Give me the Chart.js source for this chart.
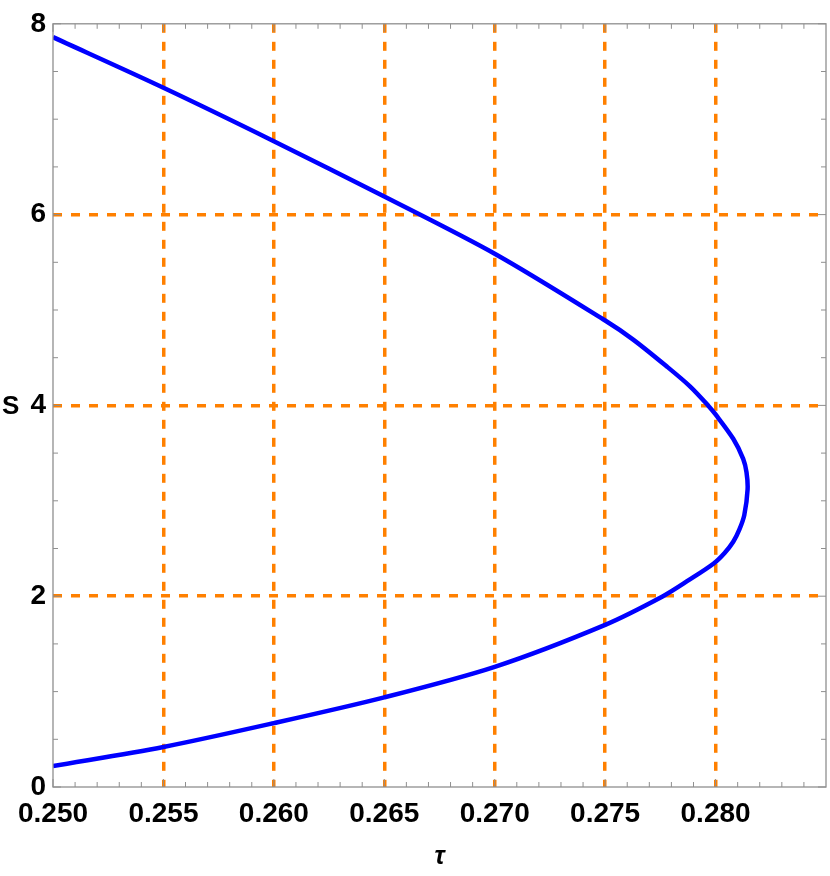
<!DOCTYPE html>
<html>
<head>
<meta charset="utf-8">
<script src="https://cdn.jsdelivr.net/npm/chart.js@4.4.1/dist/chart.umd.min.js"></script>
<style>
  html, body { margin: 0; padding: 0; background: #fff; }
  #wrap { width: 830px; height: 876px; position: relative; }
</style>
</head>
<body>
<div id="wrap"><canvas id="chart"></canvas></div>
<script>
// curve, bottom branch first then the upper branch
const tauValues = [0.2500, 0.2550, 0.2600, 0.2650, 0.2700, 0.2750, 0.27762, 0.2788, 0.2799, 0.2804,
  0.2808, 0.28108, 0.2813, 0.28145, 0.2814, 0.28125, 0.2808, 0.2800, 0.27966, 0.27884, 0.27778,
  0.27627, 0.2750, 0.2700, 0.2650, 0.2600, 0.2550, 0.2500];
const sValues = [0.22, 0.42, 0.67, 0.94, 1.26, 1.70, 2.00, 2.17, 2.34, 2.45,
  2.57, 2.70, 2.85, 3.12, 3.30, 3.44, 3.65, 3.905, 4.00, 4.20, 4.41,
  4.69, 4.89, 5.59, 6.19, 6.77, 7.33, 7.86];

const xTicks = [0.250, 0.255, 0.260, 0.265, 0.270, 0.275, 0.280];
const yTicks = [0, 2, 4, 6, 8];
const xMinorTicks = [0.251, 0.252, 0.253, 0.254, 0.256, 0.257, 0.258, 0.259, 0.261, 0.262, 0.263, 0.264,
  0.266, 0.267, 0.268, 0.269, 0.271, 0.272, 0.273, 0.274, 0.276, 0.277, 0.278, 0.279,
  0.281, 0.282, 0.283, 0.284];
const yMinorTicks = [0.5, 1, 1.5, 2.5, 3, 3.5, 4.5, 5, 5.5, 6.5, 7, 7.5];

const ORANGE = '#ff8000';
const FRAME = '#8f8f8f';
const labelFont = { family: "'Liberation Sans', Arial, sans-serif", weight: 'bold', size: 28 };

const points = tauValues.map((t, i) => ({ x: t, y: sValues[i] }));

// frame, inward ticks and the horizontal "S" label
const framePlugin = {
  id: 'frame',
  afterDraw(chart) {
    const { ctx, chartArea: a, scales } = chart;
    const xs = scales.x, ys = scales.y;
    ctx.save();
    ctx.strokeStyle = FRAME;
    ctx.lineWidth = 1.3;
    ctx.strokeRect(a.left, a.top, a.right - a.left, a.bottom - a.top);

    const tick = (x1, y1, x2, y2) => {
      ctx.beginPath(); ctx.moveTo(x1, y1); ctx.lineTo(x2, y2); ctx.stroke();
    };
    ctx.lineWidth = 1;
    xTicks.forEach(v => {
      const px = xs.getPixelForValue(v);
      tick(px, a.bottom, px, a.bottom - 8);
      tick(px, a.top, px, a.top + 8);
    });
    xMinorTicks.forEach(v => {
      const px = xs.getPixelForValue(v);
      tick(px, a.bottom, px, a.bottom - 5);
      tick(px, a.top, px, a.top + 5);
    });
    yTicks.forEach(v => {
      const py = ys.getPixelForValue(v);
      tick(a.left, py, a.left + 8, py);
      tick(a.right, py, a.right - 8, py);
    });
    yMinorTicks.forEach(v => {
      const py = ys.getPixelForValue(v);
      tick(a.left, py, a.left + 5, py);
      tick(a.right, py, a.right - 5, py);
    });

    ctx.fillStyle = '#000';
    ctx.font = "bold 26px 'Liberation Sans', Arial, sans-serif";
    ctx.textAlign = 'left';
    ctx.textBaseline = 'middle';
    ctx.fillText('S', 2, ys.getPixelForValue(4) + 1);
    ctx.restore();
  }
};

new Chart(document.getElementById('chart'), {
  type: 'scatter',
  data: {
    datasets: [{
      label: 'S',
      data: points,
      showLine: true,
      borderColor: '#0000ff',
      borderWidth: 4.5,
      pointRadius: 0,
      tension: 0.3,
      fill: false,
    }],
  },
  options: {
    responsive: true,
    maintainAspectRatio: false,
    animation: false,
    layout: { padding: { top: 17, right: 4, left: 0, bottom: 0 } },
    plugins: {
      legend: { display: false },
      tooltip: { enabled: false },
    },
    scales: {
      x: {
        type: 'linear',
        min: 0.25,
        max: 0.285,
        afterBuildTicks: (s) => { s.ticks = xTicks.map(v => ({ value: v })); },
        afterFit: (s) => { s.height = 89; },
        ticks: {
          color: '#000',
          font: labelFont,
          padding: 10,
          maxRotation: 0,
          autoSkip: false,
          callback: (v) => Number(v).toFixed(3),
        },
        grid: {
          drawTicks: false,
          lineWidth: 3.5,
          color: (c) => (c.tick && c.tick.value > 0.2501) ? ORANGE : 'rgba(0,0,0,0)',
        },
        border: { display: false, dash: [9, 9] },
        title: {
          display: true,
          text: 'τ',
          color: '#000',
          font: { family: "'Liberation Sans', Arial, sans-serif", weight: 'bold', style: 'italic', size: 25 },
          padding: { top: 0, bottom: 4 },
        },
      },
      y: {
        type: 'linear',
        min: 0,
        max: 8,
        afterBuildTicks: (s) => { s.ticks = yTicks.map(v => ({ value: v })); },
        afterFit: (s) => { s.width = 53; },
        ticks: {
          color: '#000',
          font: labelFont,
          padding: 7,
          autoSkip: false,
          callback: (v) => String(v),
        },
        grid: {
          drawTicks: false,
          lineWidth: 3.5,
          color: (c) => (c.tick && c.tick.value > 0 && c.tick.value < 8) ? ORANGE : 'rgba(0,0,0,0)',
        },
        border: { display: false, dash: [9, 9] },
      },
    },
  },
  plugins: [framePlugin],
});
</script>
</body>
</html>
